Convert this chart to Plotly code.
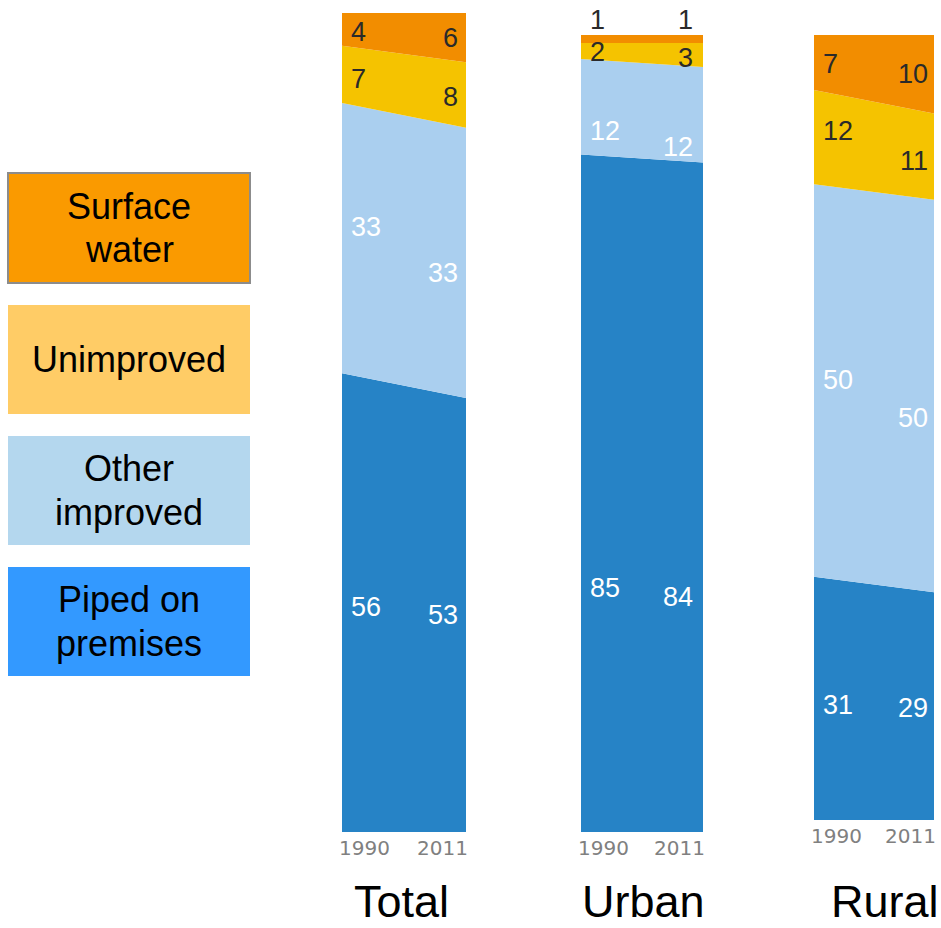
import plotly.graph_objects as go

# ---------------- data ----------------
years = [1990, 2011]
panels = ["Total", "Urban", "Rural"]
categories = ["Piped on premises", "Other improved", "Unimproved", "Surface water"]

total_piped = [56, 53]
total_other = [33, 33]
total_unimp = [7, 8]
total_surface = [4, 6]

urban_piped = [85, 84]
urban_other = [12, 12]
urban_unimp = [2, 3]
urban_surface = [1, 1]

rural_piped = [31, 29]
rural_other = [50, 50]
rural_unimp = [12, 11]
rural_surface = [7, 10]

legend_lines = [["Surface", "water"], ["Unimproved"], ["Other", "improved"], ["Piped on", "premises"]]

# ---------------- style ----------------
W, H = 941, 928
area_colors = ["#2683C6", "#AACFEF", "#F5C300", "#F28D00"]
label_colors = ["#FFFFFF", "#FFFFFF", "#2A2A2A", "#2A2A2A"]
legend_colors = ["#FA9A00", "#FFCC66", "#B4D7EE", "#3399FF"]

# pixel frames of each panel: (left, right, top, bottom)
frames = [(342, 466, 13, 832), (581, 703, 35, 832), (814, 934, 35, 820)]
title_centers = [401, 643, 885]
right_xshift = [-6, -8, -4]
# extra downward pixel nudges of value labels, per panel, per category, [1990, 2011]
label_dy = [
    [[4, 0], [-11, 10], [5, 2], [3, 0]],
    [[95, 100], [24, 32], [1, 3], [0, 0]],
    [[7, 2], [0, 22], [-6, 4], [2, 0]],
]

series = [
    [total_piped, total_other, total_unimp, total_surface],
    [urban_piped, urban_other, urban_unimp, urban_surface],
    [rural_piped, rural_other, rural_unimp, rural_surface],
]

fig = go.Figure()
layout_axes = {}
annotations = []
shapes = []

digit_font = "Liberation Sans, Arial, sans-serif"
year_font = "DejaVu Sans, sans-serif"
text_font = "Liberation Sans, Arial, sans-serif"

for p, (name, frame, data) in enumerate(zip(panels, frames, series)):
    idx = "" if p == 0 else str(p + 1)
    xa, ya = "x" + idx, "y" + idx
    l, r, t, b = frame
    layout_axes["xaxis" + idx] = dict(
        domain=[l / W, r / W], range=[years[0], years[1]], visible=False,
        fixedrange=True, anchor=ya,
    )
    layout_axes["yaxis" + idx] = dict(
        domain=[1 - b / H, 1 - t / H], range=[0, 100], visible=False,
        fixedrange=True, anchor=xa,
    )
    for k, vals in enumerate(data):
        fig.add_trace(go.Scatter(
            x=years, y=vals, xaxis=xa, yaxis=ya, mode="lines",
            stackgroup="g%d" % p, line=dict(width=0, color=area_colors[k]),
            fillcolor=area_colors[k], name=categories[k], showlegend=False,
            hoverinfo="skip",
        ))
    # value labels
    for j, yr in enumerate(years):
        base = 0
        for k, vals in enumerate(data):
            v = vals[j]
            mid = base + v / 2
            base += v
            small = v < 1.5
            annotations.append(dict(
                x=yr, y=100 if small else mid, xref=xa, yref=ya,
                text=str(v), showarrow=False,
                xanchor="left" if j == 0 else "right",
                yanchor="bottom" if small else "middle",
                xshift=7 if j == 0 else right_xshift[p],
                yshift=(-2 if small else 0) - label_dy[p][k][j],
                font=dict(family=digit_font, size=27,
                          color="#2A2A2A" if small else label_colors[k]),
            ))
        # year labels
        annotations.append(dict(
            x=yr, y=0, xref=xa, yref=ya, text=str(yr), showarrow=False,
            xanchor="left" if j == 0 else "right", yanchor="top",
            xshift=-5 if j == 0 else 4, yshift=-2,
            font=dict(family=year_font, size=20, color="#808080"),
        ))
    # panel title
    annotations.append(dict(
        x=title_centers[p] / W, y=0, xref="paper", yref="paper",
        text=name, showarrow=False, xanchor="center", yanchor="bottom",
        borderpad=0,
        font=dict(family=text_font, size=45, color="#000000"),
    ))

# legend boxes
legend_boxes = [(173, 283), (305, 414), (436, 545), (567, 676)]
for i, (lines, (y0, y1)) in enumerate(zip(legend_lines, legend_boxes)):
    shapes.append(dict(
        type="rect", xref="paper", yref="paper",
        x0=8 / W, x1=250 / W, y0=1 - y1 / H, y1=1 - y0 / H,
        fillcolor=legend_colors[i],
        line=dict(color="#8C8C8C" if i == 0 else legend_colors[i], width=2 if i == 0 else 0),
        layer="below",
    ))
    c = (y0 + y1) / 2
    n = len(lines)
    for m, line in enumerate(lines):
        cy = c + (m - (n - 1) / 2) * 44
        annotations.append(dict(
            x=129 / W, y=1 - cy / H, xref="paper", yref="paper",
            text=line, showarrow=False, xanchor="center", yanchor="middle",
            font=dict(family=text_font, size=36, color="#000000"),
        ))

fig.update_layout(
    width=W, height=H, margin=dict(l=0, r=0, t=0, b=0),
    paper_bgcolor="#FFFFFF", plot_bgcolor="rgba(0,0,0,0)",
    showlegend=False, annotations=annotations, shapes=shapes,
    **layout_axes,
)

fig.write_html("out.html", config={"displayModeBar": False})
